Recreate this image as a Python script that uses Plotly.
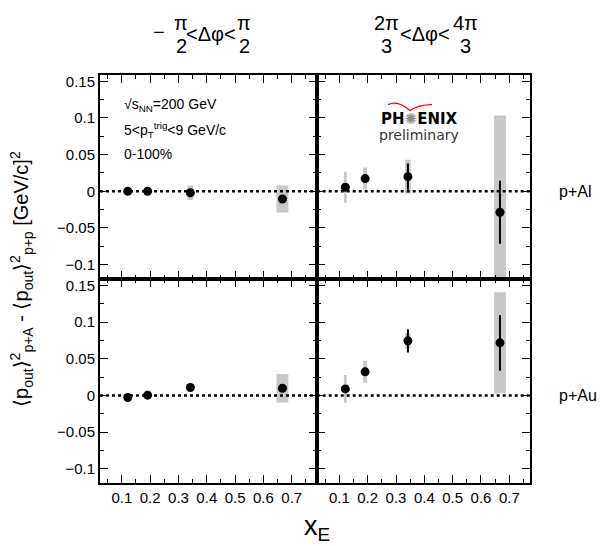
import plotly.graph_objects as go

# ---------------- data ----------------
xE = [0.121, 0.191, 0.342, 0.667]
box_halfwidth = [0.005, 0.007, 0.010, 0.021]

near_pAl = [0.000, 0.000, -0.002, -0.0105]
near_pAl_stat = [0.001, 0.001, 0.002, 0.003]
near_pAl_syst = [0.002, 0.002, 0.010, 0.0185]

away_pAl = [0.0055, 0.0173, 0.020, -0.0286]
away_pAl_stat = [0.003, 0.004, 0.018, 0.043]
away_pAl_syst = [0.021, 0.015, 0.023, 0.132]

near_pAu = [-0.0027, 0.0005, 0.011, 0.010]
near_pAu_stat = [0.002, 0.001, 0.003, 0.004]
near_pAu_syst = [0.002, 0.002, 0.003, 0.0195]

away_pAu = [0.0091, 0.0323, 0.0746, 0.0719]
away_pAu_stat = [0.004, 0.004, 0.016, 0.038]
away_pAu_syst = [0.019, 0.015, 0.010, 0.069]

x_tickvals = [0.1, 0.2, 0.3, 0.4, 0.5, 0.6, 0.7]
y_tickvals = [-0.1, -0.05, 0, 0.05, 0.1, 0.15]

xrange_left = [0.023, 0.788]
xrange_right = [0.020, 0.773]
yrange = [-0.1196, 0.159]

W, H = 605, 546
FONT = "Liberation Sans, Arial, Helvetica, sans-serif"

fig = go.Figure()

panels = [
    ("x", "y", near_pAl, near_pAl_stat, near_pAl_syst, xrange_left),
    ("x2", "y2", away_pAl, away_pAl_stat, away_pAl_syst, xrange_right),
    ("x3", "y3", near_pAu, near_pAu_stat, near_pAu_syst, xrange_left),
    ("x4", "y4", away_pAu, away_pAu_stat, away_pAu_syst, xrange_right),
]

for xa, ya, vals, stat, syst, xr in panels:
    fig.add_trace(go.Bar(
        x=xE, y=[2 * s for s in syst], base=[v - s for v, s in zip(vals, syst)],
        width=[2 * w for w in box_halfwidth], marker=dict(color="#c8c8c8", line=dict(width=0)),
        xaxis=xa, yaxis=ya, showlegend=False, hoverinfo="skip"))
    fig.add_trace(go.Scatter(
        x=xr, y=[0, 0], mode="lines", line=dict(color="black", width=2.5, dash="3px,3px"),
        xaxis=xa, yaxis=ya, showlegend=False, hoverinfo="skip"))
    fig.add_trace(go.Scatter(
        x=xE, y=vals, mode="markers",
        marker=dict(color="black", size=9, symbol="circle"),
        error_y=dict(type="data", array=stat, visible=True, color="black", thickness=2, width=0),
        xaxis=xa, yaxis=ya, showlegend=False))

xl = [100 / W, 316.7 / W]
xr_ = [316.7 / W, 530 / W]
yt = [(H - 278) / H, (H - 73) / H]
yb = [(H - 483) / H, (H - 278) / H]

def xax(domain, rng, anchor, labels):
    return dict(domain=domain, range=rng, anchor=anchor, showgrid=False, zeroline=False,
                showline=True, linecolor="black", linewidth=2, mirror="allticks",
                ticks="inside", ticklen=8, tickwidth=1.3, tickcolor="black",
                tickvals=x_tickvals, ticktext=[str(v) for v in x_tickvals],
                showticklabels=labels, tickfont=dict(family=FONT, size=15, color="black"),
                minor=dict(ticks="inside", ticklen=4, tickwidth=1.3, tickcolor="black", dtick=0.05, tick0=0),
                fixedrange=True)

def yax(domain, anchor, labels):
    return dict(domain=domain, range=yrange, anchor=anchor, showgrid=False, zeroline=False,
                showline=True, linecolor="black", linewidth=2, mirror="allticks",
                ticks="inside", ticklen=8, tickwidth=1.3, tickcolor="black",
                tickvals=y_tickvals,
                showticklabels=labels, tickfont=dict(family=FONT, size=15, color="black"),
                minor=dict(ticks="inside", ticklen=4, tickwidth=1.3, tickcolor="black", dtick=0.025, tick0=0),
                fixedrange=True)

fig.update_layout(
    width=W, height=H, margin=dict(l=0, r=0, t=0, b=0),
    paper_bgcolor="white", plot_bgcolor="white", barmode="overlay",
    xaxis=xax(xl, xrange_left, "y", False),
    yaxis=yax(yt, "x", True),
    xaxis2=xax(xr_, xrange_right, "y2", False),
    yaxis2=yax(yt, "x2", False),
    xaxis3=xax(xl, xrange_left, "y3", True),
    yaxis3=yax(yb, "x3", True),
    xaxis4=xax(xr_, xrange_right, "y4", True),
    yaxis4=yax(yb, "x4", False),
)

def px(x, y, text, size, xanchor="center", yanchor="middle", family=FONT, color="black", **kw):
    fig.add_annotation(x=x / W, y=1 - y / H, xref="paper", yref="paper", text=text,
                       showarrow=False, xanchor=xanchor, yanchor=yanchor,
                       font=dict(family=family, size=size, color=color), **kw)

# column headers
px(159, 30, "−", 20)
px(181, 21, "π", 20)
px(181, 44, "2", 20)
px(211, 32, "&lt;Δφ&lt;", 20)
px(244, 21, "π", 20)
px(244, 44, "2", 20)

px(386, 21, "2π", 20)
px(386, 44, "3", 20)
px(425, 32, "&lt;Δφ&lt;", 20)
px(465, 21, "4π", 20)
px(465, 44, "3", 20)

# in-panel text
px(122, 103, "√s<sub>NN</sub>=200 GeV", 14, xanchor="left")
px(122, 128, "5&lt;p<sub>T</sub><sup>trig</sup>&lt;9 GeV/c", 14, xanchor="left")
px(122, 153, "0-100%", 14, xanchor="left")

# PHENIX preliminary
px(419, 117, "<b>PH</b><span style='color:#8a8a8a'>✺</span><b>ENIX</b>", 15, family="DejaVu Sans")
px(419, 133, "preliminary", 14, family="DejaVu Sans", color="#333333")
def pp(x, y):
    return f"{x / W:.5f},{1 - y / H:.5f}"
fig.add_shape(type="path", xref="paper", yref="paper",
              path=f"M {pp(388, 103)} Q {pp(398, 98)} {pp(410, 109)} Q {pp(418, 103)} {pp(432, 103)}",
              line=dict(color="red", width=1.3))

# row labels
px(557, 190, "p+Al", 16, xanchor="left")
px(557, 395, "p+Au", 16, xanchor="left")

# axis titles
px(22, 278, "⟨p<sub>out</sub>⟩<sup>2</sup><sub>p+A</sub> - ⟨p<sub>out</sub>⟩<sup>2</sup><sub>p+p</sub> [GeV/c]<sup>2</sup>",
   20, textangle=-90)
px(317, 528, "x<sub>E</sub>", 27)

fig.write_html("out.html")
